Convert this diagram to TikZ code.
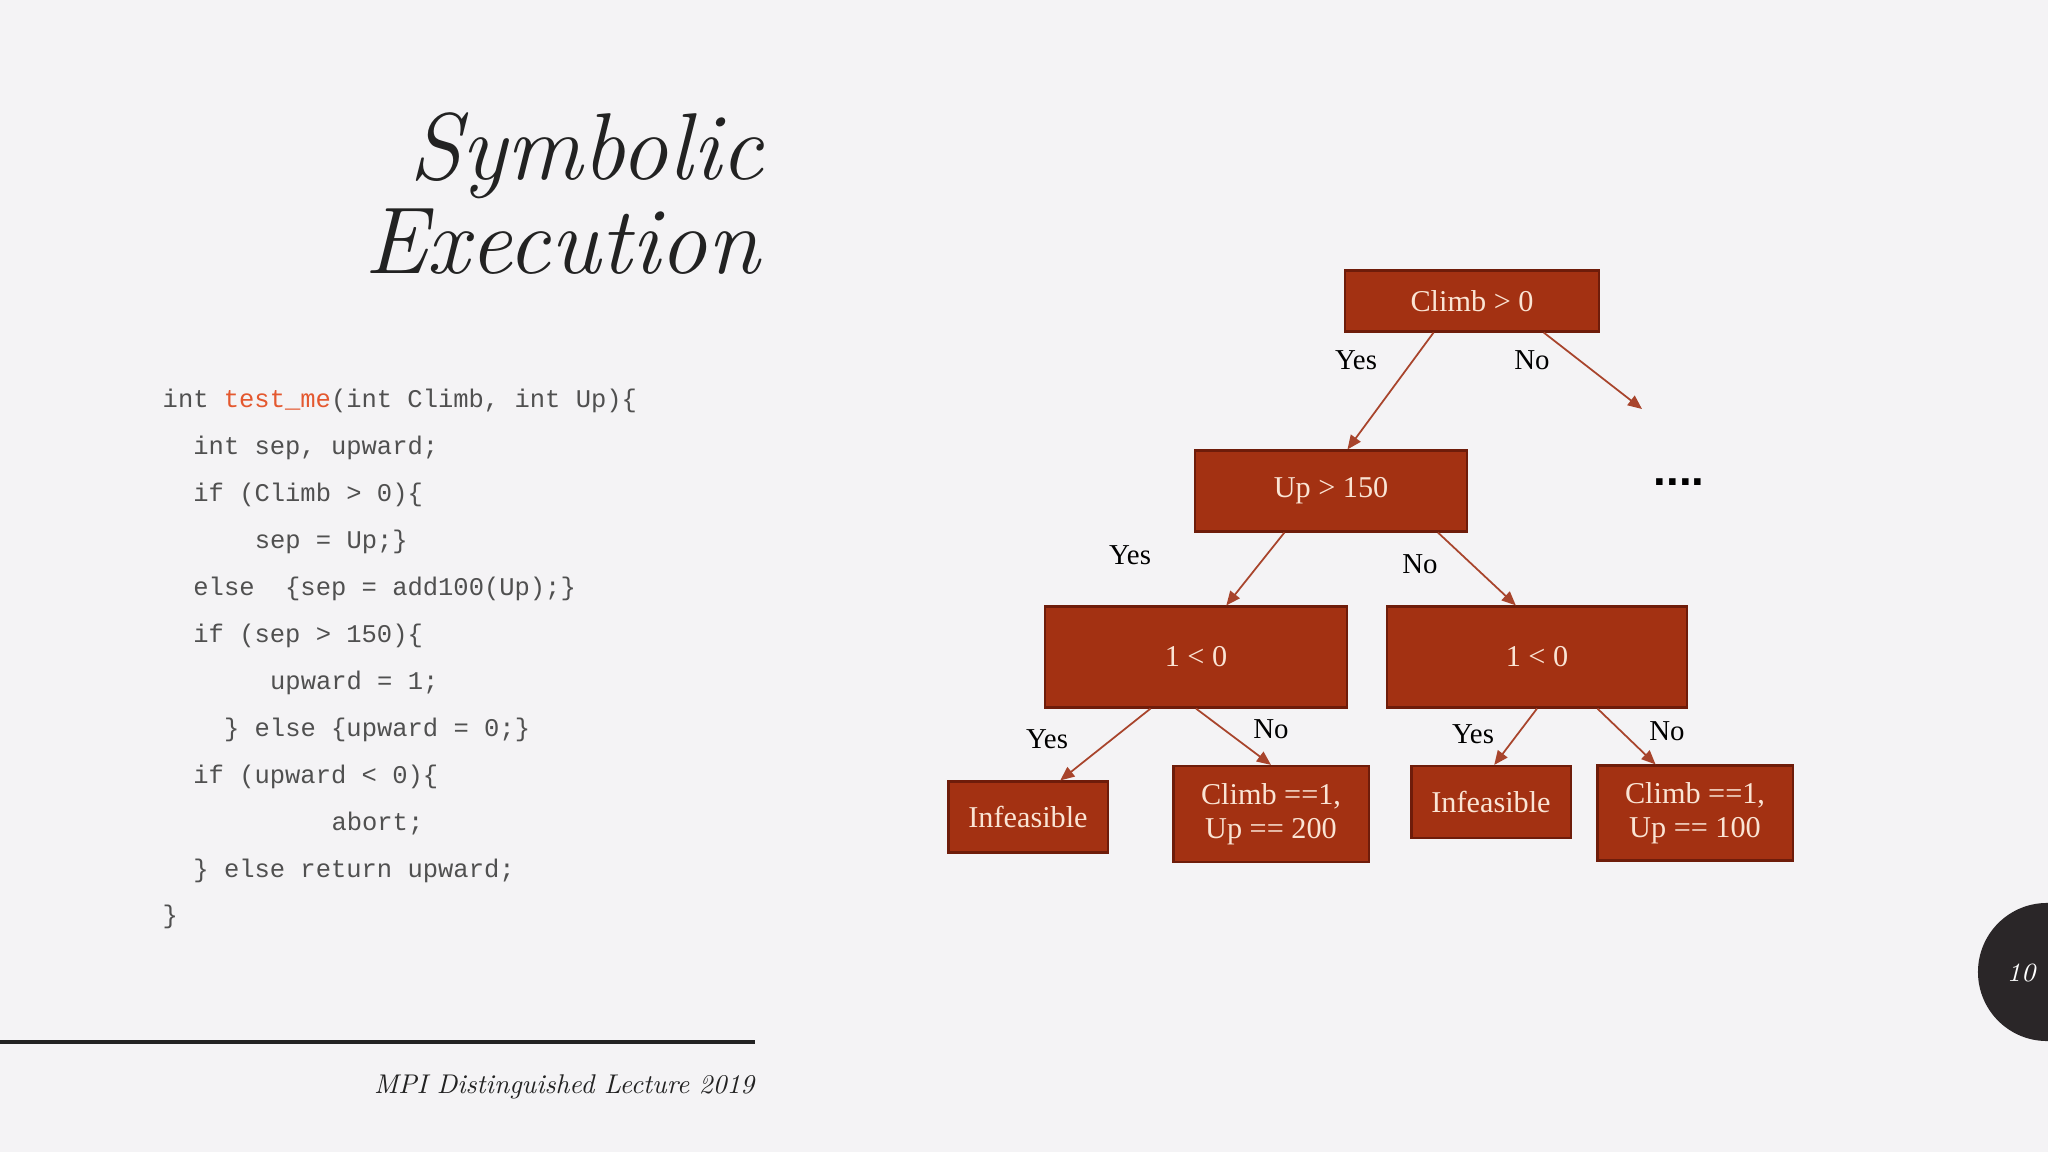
\documentclass[tikz,border=0pt]{standalone}
\usepackage{fontspec}
\setmonofont{Liberation Mono}
\newfontfamily\treefont{Liberation Serif}
\newfontfamily\dotfont{Liberation Sans}
\usepackage{xcolor}
\usepackage{graphicx}
\usetikzlibrary{arrows.meta,calc,positioning}

\definecolor{slidebg}{HTML}{F4F3F5}
\definecolor{titleblack}{HTML}{222222}
\definecolor{codegray}{HTML}{505050}
\definecolor{fnred}{HTML}{E4582F}
\definecolor{boxfill}{HTML}{A33112}
\definecolor{boxedge}{HTML}{6E1C0A}
\definecolor{boxtext}{HTML}{FAE4D4}
\definecolor{arrowred}{HTML}{A8442C}
\definecolor{pagedark}{HTML}{2A2628}

\begin{document}
\begin{tikzpicture}[x=0.01cm,y=-0.01cm,
  cond/.style={draw=boxedge,fill=boxfill,text=boxtext,line width=0.6pt,inner sep=0pt,
               align=center,font=\treefont\fontsize{8.6}{9.8}\selectfont},
  branch/.style={draw=arrowred,line width=0.5pt,-{Triangle[length=4pt,width=3.4pt]}},
  lbl/.style={font=\treefont\fontsize{8.2}{10}\selectfont,text=black},
  codeline/.style={anchor=base west,inner sep=0pt,text=codegray,
                   font=\ttfamily\fontsize{7.25}{9}\selectfont},
  titleline/.style={anchor=base east,inner sep=0pt,text=titleblack,
                    font=\itshape\fontsize{27}{30}\selectfont}]
 \fill[slidebg] (0,0) rectangle (2048,1152);
 \useasboundingbox (0,0) rectangle (2048,1152);
 \def\cw{15.35}
 \def\lh{46.9}
 % title
 \node[titleline] (title1) at (764,180) {Symbolic};
 \node[titleline] (title2) at (760,274) {Execution};
 % code
 \node[codeline] (code1) at (162,408) {int \textcolor{fnred}{test\_me}(int Climb, int Up)\{};
 \node[codeline] (code2) at ({162+2*\cw},{408+\lh}) {int sep, upward;};
 \node[codeline] (code3) at ({162+2*\cw},{408+2*\lh}) {if (Climb > 0)\{};
 \node[codeline] (code4) at ({162+6*\cw},{408+3*\lh}) {sep = Up;\}};
 \node[codeline] (code5) at ({162+2*\cw},{408+4*\lh}) {else~~\{sep = add100(Up);\}};
 \node[codeline] (code6) at ({162+2*\cw},{408+5*\lh}) {if (sep > 150)\{};
 \node[codeline] (code7) at ({162+7*\cw},{408+6*\lh}) {upward = 1;};
 \node[codeline] (code8) at ({162+4*\cw},{408+7*\lh}) {\} else \{upward = 0;\}};
 \node[codeline] (code9) at ({162+2*\cw},{408+8*\lh}) {if (upward < 0)\{};
 \node[codeline] (code10) at ({162+11*\cw},{408+9*\lh}) {abort;};
 \node[codeline] (code11) at ({162+2*\cw},{408+10*\lh}) {\} else return upward;};
 \node[codeline] (code12) at (162,{408+11*\lh}) {\}};
 % footer
 \draw[titleblack,line width=1.15pt] (0,1042) -- (755,1042);
 \node[anchor=base east,inner sep=0pt,text=titleblack]
   (footer) at (755,1093) {\scalebox{0.77}{\itshape\fontsize{10}{12}\selectfont MPI Distinguished Lecture 2019}};
 \fill[pagedark] (2047,972) circle[radius=0.69cm];
 \node[text=white,font=\itshape\fontsize{7.5}{9}\selectfont] (pagenum) at (2021,973) {10};
 % tree
 \node[cond,minimum width=2.54cm,minimum height=0.61cm] (climb) at (1472,301) {Climb > 0};
 \node[cond,minimum width=2.72cm,minimum height=0.81cm] (up) at (1331,491) {Up > 150};
 \node[cond,minimum width=3.01cm,minimum height=1.01cm] (leftc) at (1196,657) {1 < 0};
 \node[cond,minimum width=3.00cm,minimum height=1.01cm] (rightc) at (1537,657) {1 < 0};
 \node[cond,minimum width=1.59cm,minimum height=0.71cm] (inf1) at (1028,817) {Infeasible};
 \node[cond,minimum width=1.95cm,minimum height=0.96cm] (sol1) at (1271,814) {Climb ==1,\\Up == 200};
 \node[cond,minimum width=1.59cm,minimum height=0.72cm] (inf2) at (1491,802) {Infeasible};
 \node[cond,minimum width=1.95cm,minimum height=0.95cm] (sol2) at (1695,813) {Climb ==1,\\Up == 100};
 \coordinate (climbno) at (1642,409);
 \node[inner sep=0pt,font=\dotfont\bfseries\fontsize{13}{15}\selectfont] (more) at (1679,482) {....};
 % branches
 \draw[branch] ($(climb.south west)!0.35!(climb.south east)$) -- ($(up.north west)!0.56!(up.north east)$);
 \draw[branch] ($(climb.south west)!0.78!(climb.south east)$) -- (climbno);
 \draw[branch] ($(up.south west)!0.33!(up.south east)$) -- ($(leftc.north west)!0.60!(leftc.north east)$);
 \draw[branch] ($(up.south west)!0.89!(up.south east)$) -- ($(rightc.north west)!0.43!(rightc.north east)$);
 \draw[branch] ($(leftc.south west)!0.35!(leftc.south east)$) -- ($(inf1.north west)!0.70!(inf1.north east)$);
 \draw[branch] ($(leftc.south west)!0.50!(leftc.south east)$) -- ($(sol1.north west)!0.50!(sol1.north east)$);
 \draw[branch] ($(rightc.south west)!0.50!(rightc.south east)$) -- ($(inf2.north west)!0.52!(inf2.north east)$);
 \draw[branch] ($(rightc.south west)!0.70!(rightc.south east)$) -- ($(sol2.north west)!0.30!(sol2.north east)$);
 % branch labels
 \node[lbl] (yes1) at (1356,360) {Yes};
 \node[lbl] (no1) at (1532,360) {No};
 \node[lbl] (yes2) at (1130,555) {Yes};
 \node[lbl] (no2) at (1420,564) {No};
 \node[lbl] (yes3) at (1047,739) {Yes};
 \node[lbl] (no3) at (1271,729) {No};
 \node[lbl] (yes4) at (1473,734) {Yes};
 \node[lbl] (no4) at (1667,731) {No};
\end{tikzpicture}
\end{document}
